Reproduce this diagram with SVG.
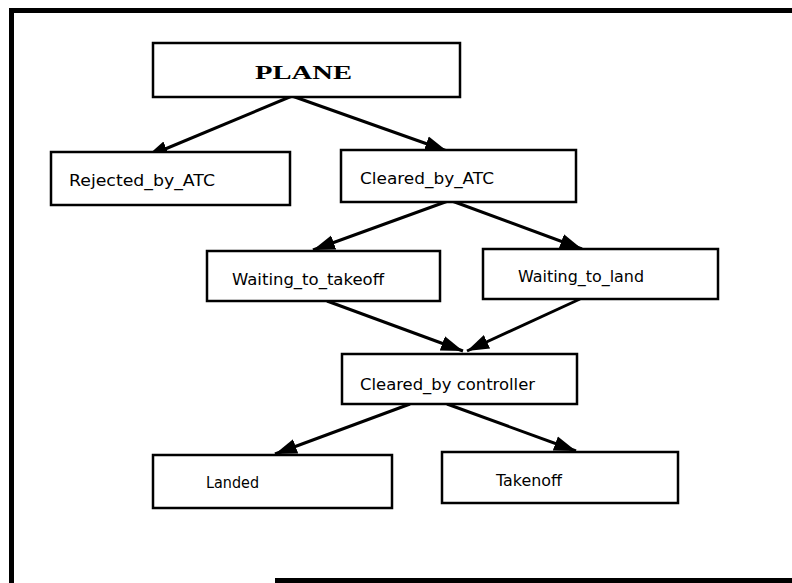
<svg xmlns="http://www.w3.org/2000/svg" width="792" height="583" viewBox="0 0 792 583">
<style>
.box{fill:#fff;stroke:#000;stroke-width:2.5}
.lbl{font-family:"DejaVu Sans","Liberation Sans",sans-serif;font-size:16px;fill:#000}
.ttl{font-family:"Liberation Serif","DejaVu Serif",serif;font-size:19px;font-weight:bold;fill:#000}
.edge{stroke:#000;stroke-width:3;fill:none;marker-end:url(#ah)}
.frame{stroke:#000;stroke-width:5;fill:none}
</style>
<defs>
<marker id="ah" markerUnits="userSpaceOnUse" markerWidth="24" markerHeight="18" refX="22" refY="9" orient="auto">
<path d="M0,1.5 L22,9 L0,16.5 z" fill="#000"/>
</marker>
</defs>
<rect width="792" height="583" fill="#fff"/>
<g id="frame">
<path class="frame" d="M11.5,583 V10.5 H792"/>
<path class="frame" d="M275,580.5 H792"/>
</g>
<g id="connectors">
<line class="edge" x1="292" y1="96" x2="146" y2="157"/>
<line class="edge" x1="292" y1="96" x2="447" y2="151"/>
<line class="edge" x1="448" y1="201" x2="313" y2="250"/>
<line class="edge" x1="452" y1="201" x2="582" y2="249"/>
<line class="edge" x1="327" y1="301" x2="463" y2="351"/>
<line class="edge" x1="580" y1="299" x2="467" y2="351"/>
<line class="edge" x1="410" y1="404" x2="275" y2="454"/>
<line class="edge" x1="447" y1="404" x2="576" y2="451"/>
</g>
<g id="plane">
<rect class="box" x="153" y="43" width="307" height="54"/>
<text class="ttl" x="255" y="79" textLength="97" lengthAdjust="spacingAndGlyphs">PLANE</text>
</g>
<g id="rejected">
<rect class="box" x="51" y="152" width="239" height="53"/>
<text class="lbl" x="69" y="186" textLength="146" lengthAdjust="spacingAndGlyphs">Rejected_by_ATC</text>
</g>
<g id="cleared_atc">
<rect class="box" x="341" y="150" width="235" height="52"/>
<text class="lbl" x="360" y="184" textLength="134" lengthAdjust="spacingAndGlyphs">Cleared_by_ATC</text>
</g>
<g id="waiting_takeoff">
<rect class="box" x="207" y="251" width="233" height="50"/>
<text class="lbl" x="232" y="285" textLength="152" lengthAdjust="spacingAndGlyphs">Waiting_to_takeoff</text>
</g>
<g id="waiting_land">
<rect class="box" x="483" y="249" width="235" height="50"/>
<text class="lbl" x="518" y="282" textLength="126" lengthAdjust="spacingAndGlyphs">Waiting_to_land</text>
</g>
<g id="cleared_controller">
<rect class="box" x="342" y="354" width="235" height="50"/>
<text class="lbl" x="360" y="390" textLength="175" lengthAdjust="spacingAndGlyphs">Cleared_by controller</text>
</g>
<g id="landed">
<rect class="box" x="153" y="455" width="239" height="53"/>
<text class="lbl" x="206" y="488" textLength="53" lengthAdjust="spacingAndGlyphs">Landed</text>
</g>
<g id="takenoff">
<rect class="box" x="442" y="452" width="236" height="51"/>
<text class="lbl" x="496" y="486" textLength="66" lengthAdjust="spacingAndGlyphs">Takenoff</text>
</g>
</svg>
